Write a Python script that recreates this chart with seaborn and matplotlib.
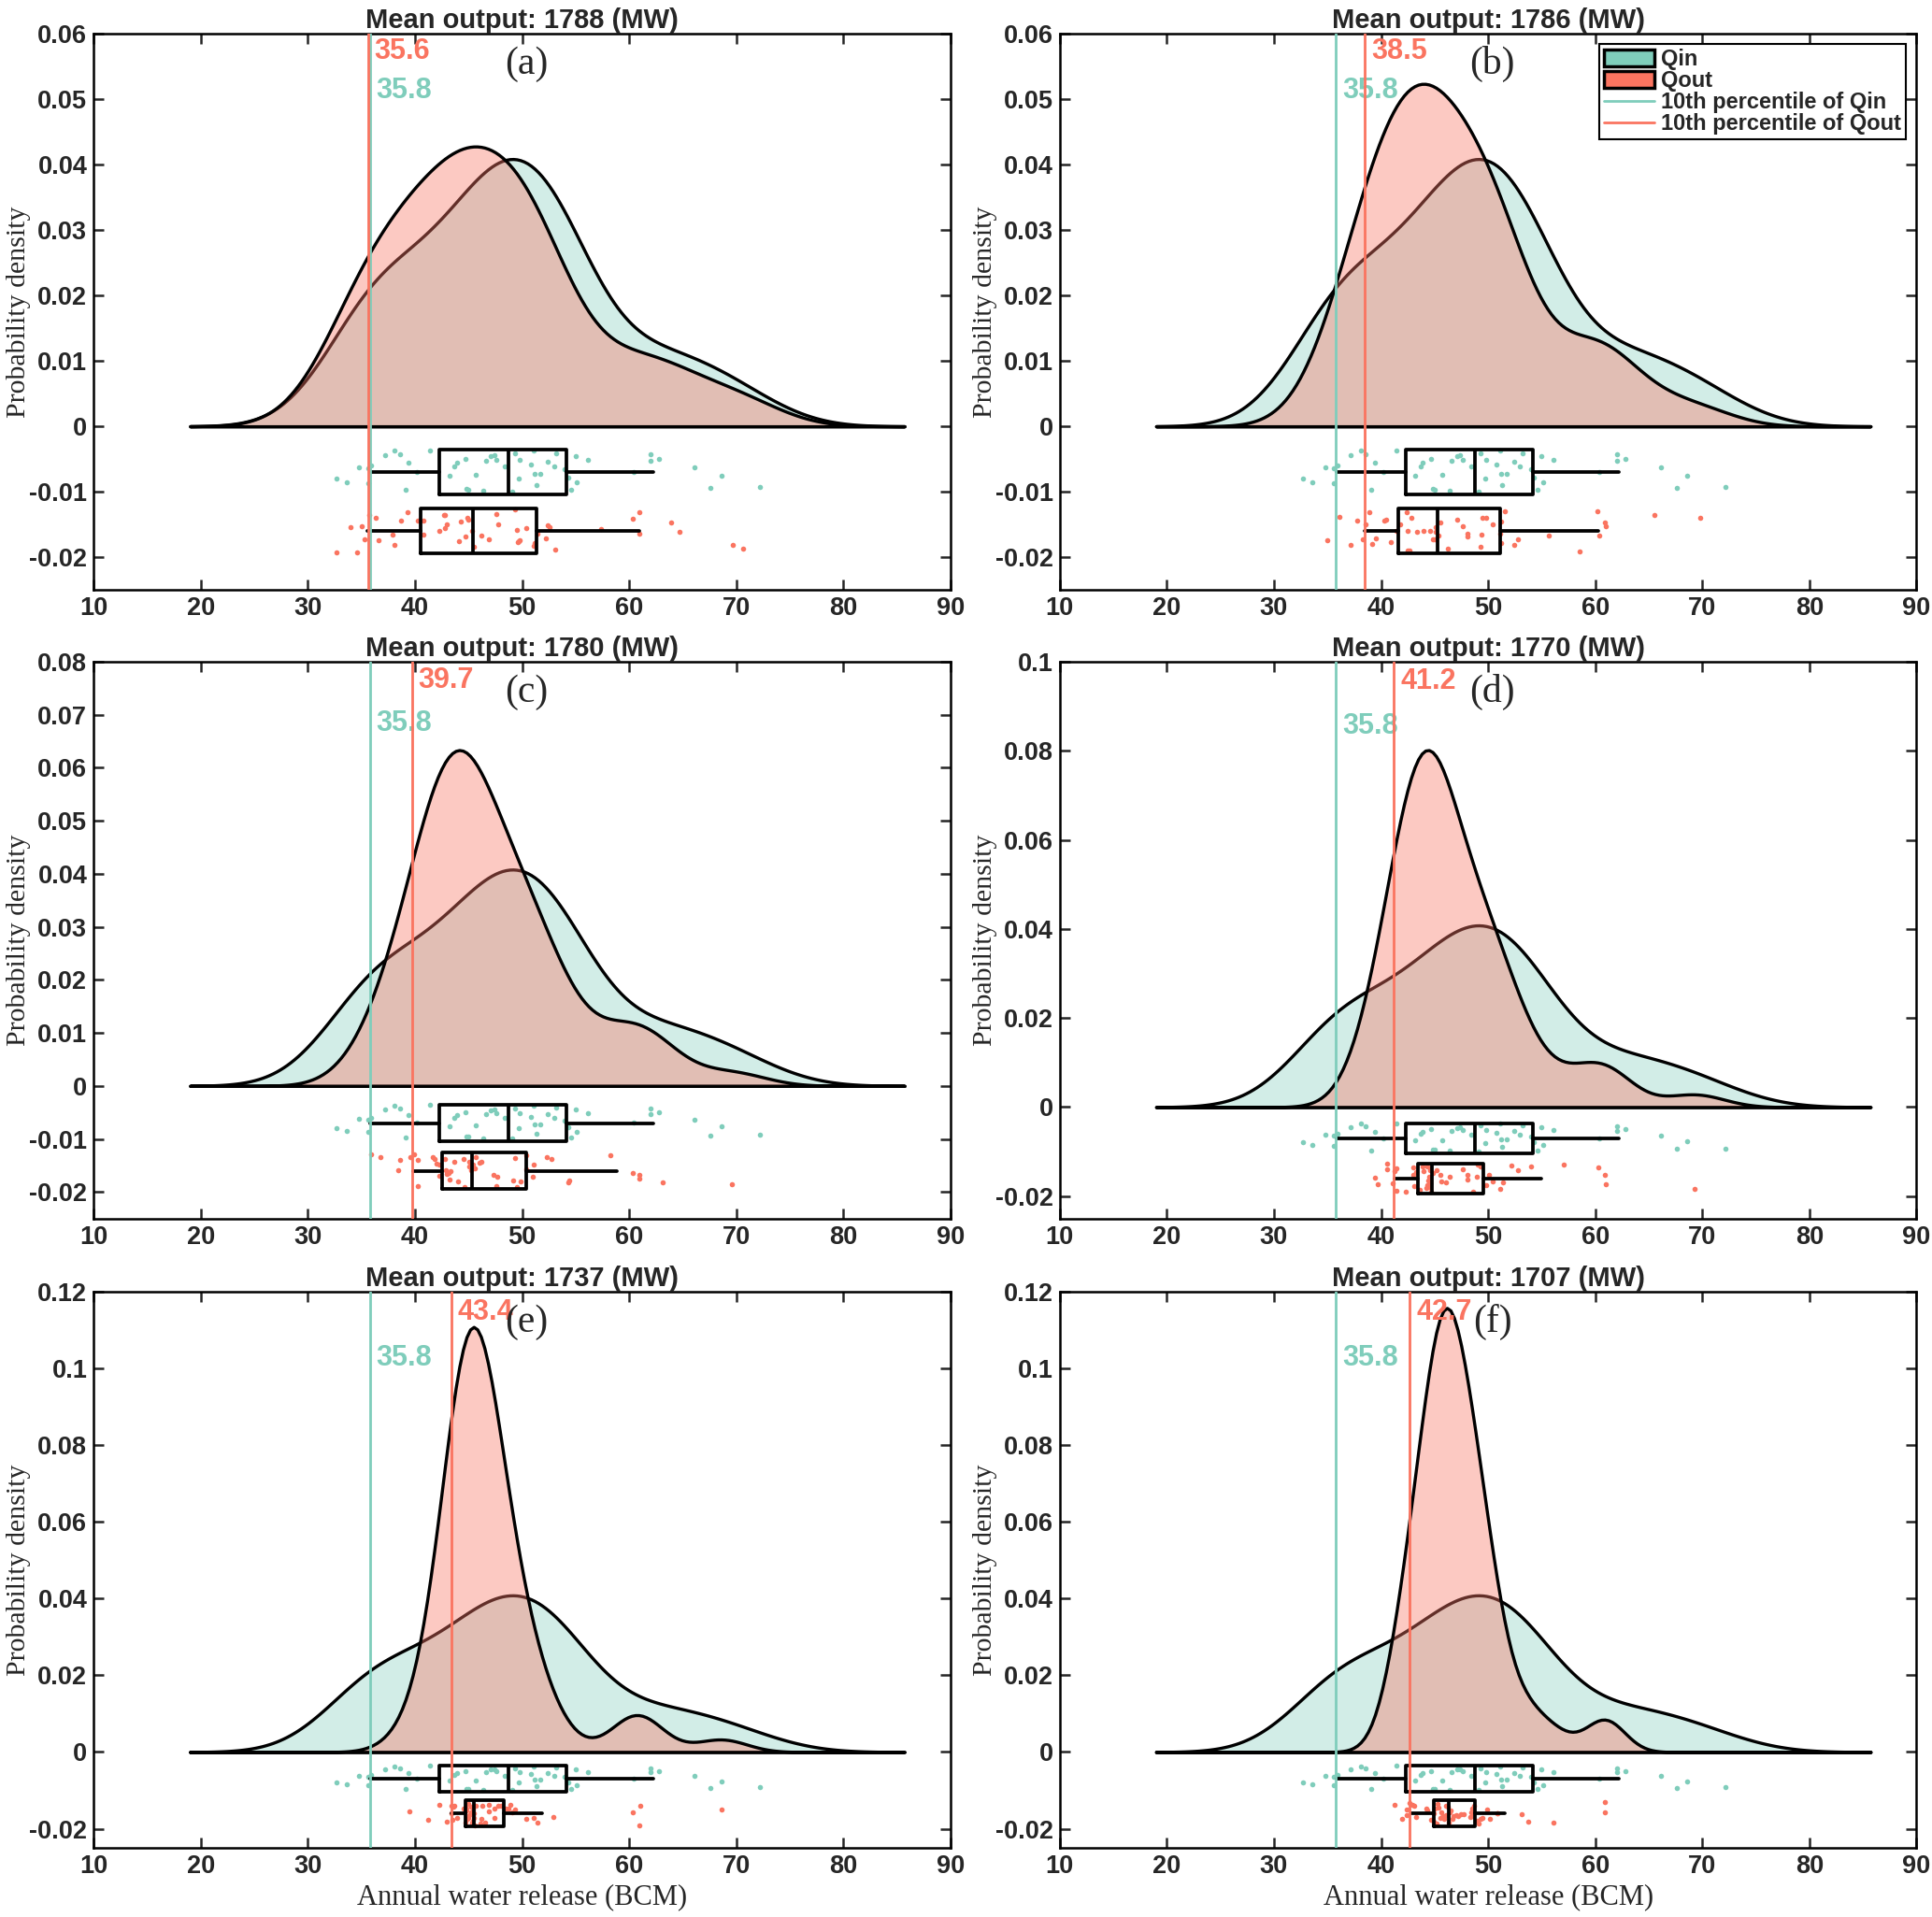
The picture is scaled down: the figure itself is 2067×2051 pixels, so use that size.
import matplotlib
matplotlib.use("Agg")
import matplotlib.pyplot as plt
import numpy as np
import seaborn as sns
from matplotlib.lines import Line2D
from matplotlib.patches import Patch
from matplotlib.ticker import FuncFormatter, MultipleLocator

# ---- data ---------------------------------------------------------------
# inflow sample (same in every panel), annual water release in BCM
qin = [32.7, 33.6, 34.8, 35.6, 35.9, 35.6, 37.2, 38.1, 38.6, 39.4, 39.1, 40.2,
       41.4, 43.2, 43.7, 43.9, 44.7, 44.8, 45.0, 45.7, 46.4, 46.6, 47.1, 47.4,
       47.6, 48.4, 49.1, 49.3, 49.7, 49.8, 50.8, 51.1, 51.2, 51.7, 51.3, 52.4,
       53.0, 53.2, 54.0, 54.3, 54.6, 55.0, 55.1, 56.1, 60.4, 62.0, 62.0, 62.8,
       66.1, 67.6, 68.6, 72.2]
# vertical scatter of the dots inside their strip (-1..1)
qin_jit = [-0.27, -0.44, 0.21, 0.16, 0.30, -0.50, 0.76, 0.96, 0.80, 0.44, -0.79, 0.01,
           0.99, -0.16, 0.27, 0.44, 0.59, -0.74, -0.77, -0.13, -0.83, 0.49, 0.70, 0.76,
           0.56, 0.26, -0.86, 0.83, -0.30, 0.54, 0.36, 0.97, -0.07, -0.09, -0.59, 0.47,
           0.26, 0.86, 0.13, -0.24, -0.80, 0.73, -0.47, 0.54, 0.01, 0.80, 0.50, 0.59,
           0.20, -0.71, -0.17, -0.66]

qout_a = [32.7, 34.0, 34.6, 35.0, 35.3, 35.7, 36.3, 36.6, 37.9, 38.1, 38.7, 39.3,
          40.3, 40.8, 40.8, 42.3, 42.7, 42.8, 42.8, 43.0, 44.1, 44.3, 44.7, 44.9,
          45.0, 45.3, 45.5, 46.2, 46.9, 47.6, 47.8, 49.3, 49.5, 49.6, 49.7, 49.8,
          50.4, 51.1, 51.2, 51.4, 52.2, 52.4, 52.6, 53.1, 57.4, 60.3, 60.9, 60.9,
          63.9, 64.7, 69.7, 70.6]
qout_a_jit = [-0.96, 0.17, -0.94, 0.24, -0.36, 0.71, 0.60, -0.43, -0.16, -0.60, 0.46, 0.84,
              0.47, 0.47, -0.14, 0.01, 0.74, 0.71, 0.13, 0.31, -0.44, 0.41, -0.23, 0.60,
              0.53, -0.01, -0.71, -0.21, -0.37, 0.77, 0.29, 0.96, 0.06, -0.51, -0.47, -0.43,
              0.13, -0.67, -0.54, -0.10, -0.34, 0.27, 0.17, -0.81, 0.10, 0.57, 0.83, -0.10,
              0.39, -0.03, -0.63, -0.79]

qout_b = [35.0, 36.1, 37.2, 37.8, 38.3, 38.6, 38.9, 39.2, 39.5, 40.3, 40.5, 40.9,
          41.4, 42.4, 42.5, 42.5, 42.7, 42.8, 43.4, 44.0, 44.6, 44.8, 45.0, 45.1,
          45.1, 45.5, 46.2, 47.1, 47.6, 48.1, 48.1, 49.4, 49.3, 49.5, 49.8, 50.4,
          51.1, 51.6, 52.4, 52.8, 55.7, 58.5, 60.2, 60.9, 61.0, 60.4, 65.5, 69.8,
          41.8, 45.4, 51.2, 51.2]
qout_b_jit = [-0.43, 0.65, -0.63, 0.47, -0.35, 0.32, 0.86, -0.57, -0.31, 0.49, 0.53, -0.50,
              0.01, 0.86, 0.03, -0.88, -0.88, 0.58, -0.04, -0.01, 0.01, -0.38, -0.35, 0.18,
              -0.04, 0.38, -0.79, 0.51, 0.24, -0.10, -0.25, -0.14, -0.71, 0.60, 0.60, 0.31,
              -0.11, 0.90, -0.64, -0.35, -0.21, -0.93, 0.88, 0.39, 0.21, -0.21, 0.74, 0.60,
              0.30, -0.20, 0.45, -0.55]

qout_c = [35.9, 36.8, 38.4, 38.6, 39.6, 39.9, 40.3, 40.3, 41.7, 41.8, 42.0, 42.3,
          42.8, 42.9, 43.1, 43.0, 43.3, 43.2, 43.7, 44.0, 44.5, 44.6, 45.1, 45.1,
          45.2, 45.6, 45.7, 46.0, 46.2, 47.3, 47.7, 47.6, 49.3, 49.2, 49.5, 49.9,
          50.4, 51.1, 51.0, 52.3, 52.7, 54.3, 54.4, 58.2, 60.3, 60.9, 60.9, 63.1, 69.6,
          42.3, 45.4, 50.4]
qout_c_jit = [0.93, 0.75, 0.05, 0.59, 0.73, 0.90, 0.61, -0.85, 0.76, 0.64, 0.41, 0.36,
              0.63, 0.03, -0.12, -0.20, -0.02, -0.51, 0.49, -0.61, 0.63, -0.90, 0.51, 0.24,
              0.05, 0.12, 0.73, 0.42, 0.47, -0.22, -0.34, -0.83, 0.68, -0.54, -0.92, -0.59,
              0.86, 0.32, -0.34, 0.78, 0.66, -0.64, -0.53, 0.88, -0.14, -0.25, -0.42, -0.66,
              -0.75, -0.30, 0.35, 0.10]

qout_d = [39.4, 39.7, 40.6, 40.6, 41.1, 41.3, 41.4, 41.4, 42.3, 43.0, 43.0, 43.1,
          43.6, 43.9, 44.0, 44.2, 44.3, 44.4, 44.6, 45.2, 45.5, 45.6, 46.1, 46.4,
          47.6, 48.1, 48.1, 48.6, 48.9, 49.0, 49.3, 50.1, 50.4, 51.1, 51.4, 52.2,
          52.8, 54.0, 57.1, 60.3, 60.9, 61.0, 69.3,
          43.3, 44.3, 44.5, 44.5, 44.6, 44.6, 44.7, 44.8, 49.8]
qout_d_jit = [0.06, -0.38, 0.96, 0.62, -0.30, 0.46, 0.68, -0.84, -0.88, 0.74, 0.22, -0.54,
              -0.74, 0.76, 0.46, -0.64, -0.44, -0.14, 0.56, 0.52, 0.20, -0.18, -0.26, 0.10,
              0.60, 0.26, -0.08, -0.90, 0.08, 0.92, 0.76, 0.26, -0.22, -0.72, -0.28, 0.86,
              0.52, 0.76, 0.90, 0.72, 0.20, -0.38, -0.68,
              0.40, 0.80, -0.60, 0.10, -0.30, 0.65, -0.85, 0.35, -0.45]

qout_e = [39.5, 41.2, 42.3, 43.0, 43.4, 43.5, 43.6, 43.7, 43.9, 44.5, 44.8, 45.0,
          45.2, 45.3, 45.5, 45.7, 45.6, 46.1, 46.2, 46.3, 46.5, 46.9, 46.9, 47.4,
          47.4, 47.8, 48.5, 48.7, 48.9, 49.1, 49.3, 50.4, 51.1, 51.4, 52.9, 60.3,
          60.9, 61.0, 68.6,
          43.4, 44.7, 44.7, 44.8, 44.9, 45.0, 45.1, 45.2, 45.3, 45.4, 45.4, 45.5, 48.0]
qout_e_jit = [0.16, -0.52, 0.68, -0.61, 0.57, -0.52, 0.52, 0.57, -0.34, 0.34, 0.39, -0.34,
              0.11, -0.68, -0.34, 0.61, -0.91, -0.75, -0.45, 0.57, -0.68, 0.68, 0.16, -0.34,
              0.39, 0.61, 0.34, 0.39, 0.68, 0.07, 0.30, -0.45, -0.34, -0.68, -0.25, 0.05,
              -0.89, 0.59, 0.27,
              0.00, 0.45, -0.70, 0.20, -0.40, 0.75, -0.15, 0.50, -0.80, 0.30, -0.55, 0.00, 0.60]

qout_f = [41.3, 42.0, 42.4, 42.4, 42.7, 42.9, 43.1, 43.3, 44.2, 44.3, 44.7, 44.9,
          45.2, 45.4, 45.5, 45.6, 45.8, 45.9, 46.1, 46.1, 46.4, 46.7, 46.8, 47.0,
          47.2, 47.5, 47.7, 48.3, 48.4, 48.5, 48.5, 48.9, 49.1, 49.3, 49.5, 49.9,
          50.2, 53.1, 53.7, 56.1, 60.9, 60.9,
          44.9, 45.0, 45.3, 45.7, 46.2, 46.3, 46.5, 48.7, 50.9, 50.9]
qout_f_jit = [0.68, -0.41, 0.30, -0.14, 0.80, 0.68, 0.57, -0.27, 0.34, 0.23, -0.50, 0.00,
              -0.80, 0.45, -0.34, 0.11, -0.18, -0.45, -0.11, 0.57, 0.11, -0.45, -0.23, -0.11,
              -0.18, -0.07, -0.05, -0.30, 0.11, 0.34, -0.23, -0.57, -0.80, -0.39, -0.34, 0.30,
              -0.41, -0.05, -0.61, -0.68, 0.11, 0.89,
              -0.60, 0.40, 0.70, -0.25, 0.55, -0.70, 0.20, 0.60, 0.00, 0.00]

qout = [qout_a, qout_b, qout_c, qout_d, qout_e, qout_f]
qout_jit = [qout_a_jit, qout_b_jit, qout_c_jit, qout_d_jit, qout_e_jit, qout_f_jit]

p10_in = 35.8
p10_out = [35.6, 38.5, 39.7, 41.2, 43.4, 42.7]
mean_output = [1788, 1786, 1780, 1770, 1737, 1707]
tags = ["(a)", "(b)", "(c)", "(d)", "(e)", "(f)"]
y_top = [0.06, 0.06, 0.08, 0.1, 0.12, 0.12]
y_step = [0.01, 0.01, 0.01, 0.02, 0.02, 0.02]

# ---- style ----------------------------------------------------------------
TEAL = "#7fcdbb"
TEAL_FILL = "#8fd3c4"
SALMON = "#fa7460"
SALMON_FILL = "#f87868"
SANS = "Liberation Sans"
SERIF = "Liberation Serif"

sns.set_style("ticks")
plt.rcParams["font.family"] = [SANS, "DejaVu Sans"]
plt.rcParams["axes.linewidth"] = 1.8

POS_IN, POS_OUT, HALF = -0.007, -0.016, 0.0034


def box_stats(values):
    # quartiles and 10/90 whiskers, percentiles as MATLAB's prctile computes them
    q10, q25, q50, q75, q90 = np.percentile(values, [10, 25, 50, 75, 90],
                                            method="hazen")
    return dict(med=q50, q1=q25, q3=q75, whislo=q10, whishi=q90, fliers=[])


def draw_panel(ax, k):
    out = qout[k]
    sns.kdeplot(x=qin, ax=ax, fill=True, color=TEAL_FILL, alpha=0.4,
                edgecolor="black", linewidth=2.4, cut=20, clip=(19, 85.7))
    sns.kdeplot(x=out, ax=ax, fill=True, color=SALMON_FILL, alpha=0.4,
                edgecolor="black", linewidth=2.4, cut=20, clip=(19, 85.7))

    # rain: jittered dots
    sns.scatterplot(x=qin, y=POS_IN + np.array(qin_jit) * HALF, s=16,
                    color=TEAL, linewidth=0, ax=ax, zorder=3)
    sns.scatterplot(x=out, y=POS_OUT + np.array(qout_jit[k]) * HALF, s=16,
                    color=SALMON, linewidth=0, ax=ax, zorder=3)

    line = dict(color="black", linewidth=2.7)
    ax.bxp([box_stats(qin), box_stats(out)], positions=[POS_IN, POS_OUT],
           widths=2 * HALF, orientation="horizontal", showcaps=False,
           showfliers=False, manage_ticks=False, boxprops=line,
           whiskerprops=line, medianprops=line, zorder=4)

    top = y_top[k]
    ax.axvline(p10_in, color=TEAL, lw=2.0, zorder=5)
    ax.axvline(p10_out[k], color=SALMON, lw=2.0, zorder=5)
    ax.text(p10_out[k] + 0.6, 0.955 * top, f"{p10_out[k]:.1f}", color=SALMON,
            fontsize=22, fontweight="bold", ha="left", va="center")
    ax.text(p10_in + 0.6, 0.855 * top, f"{p10_in:.1f}", color=TEAL,
            fontsize=22, fontweight="bold", ha="left", va="center")
    ax.text(0.505, 0.945, tags[k], transform=ax.transAxes, family=SERIF,
            fontsize=30, ha="center", va="center")

    ax.set_xlim(10, 90)
    ax.set_ylim(-0.025, top)
    ax.xaxis.set_major_locator(MultipleLocator(10))
    ax.yaxis.set_major_locator(MultipleLocator(y_step[k]))
    ax.yaxis.set_major_formatter(FuncFormatter(lambda v, _: f"{round(v, 3):g}"))
    ax.tick_params(direction="in", top=True, right=True, length=8, width=1.8,
                   labelsize=19.5, pad=5)
    for lab in ax.get_xticklabels() + ax.get_yticklabels():
        lab.set_fontweight("bold")
    for sp in ax.spines.values():
        sp.set_visible(True)
        sp.set_color("black")
    ax.set_title(f"Mean output: {mean_output[k]} (MW)", fontsize=21,
                 fontweight="bold", pad=4)
    ax.set_ylabel("Probability density", family=SERIF, fontsize=21.5)
    ax.yaxis.set_label_coords(-0.073, 0.5)
    if k >= 4:
        ax.set_xlabel("Annual water release (BCM)", family=SERIF, fontsize=22,
                      labelpad=4)
    else:
        ax.set_xlabel("")


fig = plt.figure(figsize=(20.67, 20.51), dpi=100)
lefts = [0.0485, 0.5485]
bottoms = [0.6922, 0.3644, 0.0360]
for k in range(6):
    ax = fig.add_axes([lefts[k % 2], bottoms[k // 2], 0.4435, 0.2904])
    draw_panel(ax, k)
    if k == 1:
        handles = [
            Patch(facecolor=TEAL, edgecolor="black", linewidth=2.5),
            Patch(facecolor=SALMON, edgecolor="black", linewidth=2.5),
            Line2D([], [], color=TEAL, lw=2),
            Line2D([], [], color=SALMON, lw=2),
        ]
        leg = ax.legend(handles, ["Qin", "Qout", "10th percentile of Qin",
                                  "10th percentile of Qout"],
                        loc="upper right", fancybox=False, framealpha=1,
                        edgecolor="black", prop={"weight": "bold", "size": 17},
                        borderaxespad=0.5, handlelength=2.3, handleheight=0.75,
                        labelspacing=0.0, borderpad=0.2, handletextpad=0.3)
        leg.get_frame().set_linewidth(1.5)

fig.savefig("out.png", dpi=100)
